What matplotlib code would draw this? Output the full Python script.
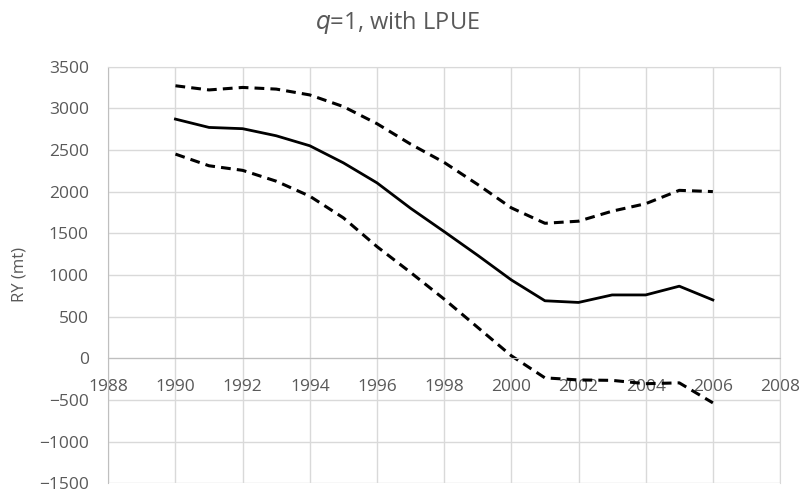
import matplotlib.pyplot as plt
import matplotlib

matplotlib.rcParams.update({'font.family': ['Open Sans', 'DejaVu Sans']})

# Data
years = list(range(1990, 2007))
ry_mid = [2870, 2770, 2755, 2670, 2550, 2345, 2105, 1800, 1520, 1235,
          940, 690, 670, 760, 760, 865, 700]
ry_upper = [3270, 3220, 3250, 3230, 3160, 3020, 2815, 2570, 2350, 2085,
            1805, 1620, 1645, 1765, 1855, 2015, 2000]
ry_lower = [2450, 2310, 2255, 2125, 1945, 1685, 1340, 1030, 710, 370,
            30, -235, -260, -265, -305, -295, -535]

xticks = list(range(1988, 2009, 2))
yticks = list(range(-1500, 3501, 500))

text_col = '#595959'
grid_col = '#d9d9d9'

fig = plt.figure(figsize=(8.05, 4.97), dpi=100)
ax = fig.add_axes([0.1345, 0.0276, 0.8345, 0.8384])

ax.plot(years, ry_mid, color='black', lw=2.0, solid_joinstyle='round')
ax.plot(years, ry_upper, color='black', lw=2.2, dashes=(3.2, 2.0))
ax.plot(years, ry_lower, color='black', lw=2.2, dashes=(3.2, 2.0))

ax.set_xlim(1988, 2008)
ax.set_ylim(-1500, 3500)
ax.set_xticks(xticks)
ax.set_yticks(yticks)
ax.grid(True, color=grid_col, lw=1.0)
ax.set_axisbelow(True)

# x axis crosses at zero, like the spreadsheet original
ax.spines['bottom'].set_position(('data', 0))
ax.spines['bottom'].set_color('#bfbfbf')
ax.spines['left'].set_color('#bfbfbf')
ax.spines['top'].set_color(grid_col)
ax.spines['right'].set_color(grid_col)
ax.tick_params(length=0, labelsize=12.5, labelcolor=text_col)
ax.tick_params(axis='x', pad=15)
ax.tick_params(axis='y', pad=14)

ax.set_ylabel('RY (mt)', color=text_col, fontsize=12, labelpad=8)
fig.text(0.494, 0.941, r'$q$=1, with LPUE', ha='center', va='baseline',
         fontsize=17, color=text_col)

fig.savefig('out.png', dpi=100)
